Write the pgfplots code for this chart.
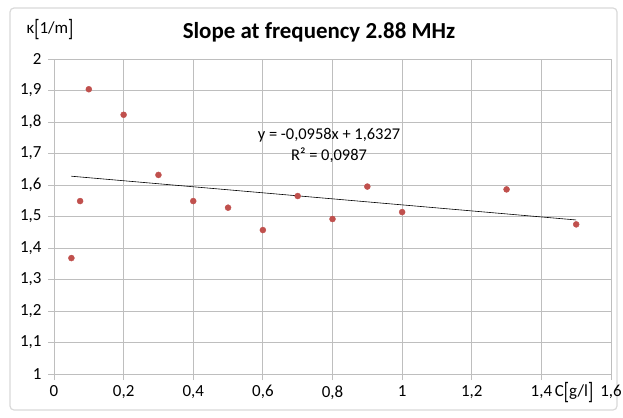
\documentclass[border=0pt]{standalone}
\usepackage{pgfplots}
\pgfplotsset{compat=1.18}
\usepackage{fontspec}
\setmainfont{Carlito}
\definecolor{mred}{RGB}{192,80,77}
\definecolor{gridc}{RGB}{190,190,190}
\definecolor{framec}{RGB}{217,217,217}
\newcommand{\tb}[1]{\raisebox{-0.22em}{\scalebox{1}[1.4]{#1}}}
\begin{document}
\begin{tikzpicture}[x=1bp,y=1bp]
\path[use as bounding box] (0,0) rectangle (623,417);
\draw[rounded corners=4bp, draw=framec, line width=1.2bp] (10,7) rectangle (617,409);
\begin{axis}[at={(54bp,43bp)}, anchor=south west, scale only axis,
  width=557bp, height=315bp,
  xmin=0, xmax=1.6, ymin=1, ymax=2,
  xtick={0,0.2,0.4,0.6,0.8,1,1.2,1.4,1.6},
  ytick={1,1.1,1.2,1.3,1.4,1.5,1.6,1.7,1.8,1.9,2},
  /pgf/number format/.cd, use comma, 1000 sep={}, assume math mode=true,
  /pgfplots/.cd,
  grid=major, major grid style={gridc, line width=0.8bp},
  axis line style={gridc, line width=0.8bp},
  tick style={gridc, line width=0.8bp},
  major tick length=6bp, tick align=outside, tick pos=left,
  ticklabel style={font=\fontsize{17}{19}\selectfont},
  yticklabel style={xshift=-3bp},
  xticklabel style={yshift=-2bp},
  clip=false]
\addplot[only marks, mark=*, mark size=3bp, mark options={draw=mred, fill=mred}, color=mred] coordinates {
 (0.05,1.368) (0.075,1.549) (0.1,1.904) (0.2,1.823) (0.3,1.632) (0.4,1.549)
 (0.5,1.528) (0.6,1.457) (0.7,1.565) (0.8,1.492) (0.9,1.595) (1.0,1.514)
 (1.3,1.586) (1.5,1.475)};
\addplot[black, line width=0.6bp] coordinates {(0.05,1.6279) (1.5,1.4890)};
\node[font=\fontsize{16.5}{18}\selectfont] at (axis cs:0.79,1.759) {y = -0,0958x + 1,6327};
\node[font=\fontsize{16.5}{18}\selectfont] at (axis cs:0.79,1.694) {R² = 0,0987};
\end{axis}
\node[font=\bfseries\fontsize{23}{26}\selectfont] at (319,385) {Slope at frequency 2.88 MHz};
\node[font=\fontsize{17}{19}\selectfont] at (50,387) {κ\tb{[}1/m\tb{]}};
\node[font=\fontsize{17}{19}\selectfont] at (574,24) {C\tb{[}g/l\tb{]}};
\end{tikzpicture}
\end{document}
